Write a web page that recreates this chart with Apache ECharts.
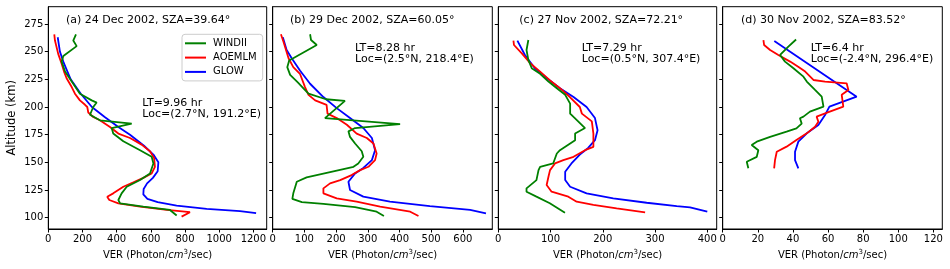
<!DOCTYPE html>
<html><head><meta charset="utf-8">
<script src="https://cdn.jsdelivr.net/npm/echarts@6/dist/echarts.min.js"></script>
<style>html,body{margin:0;padding:0;background:#fff}#c{width:950px;height:269px}</style>
</head><body><div id="c"></div>
<script>
// ---- data: [VER, altitude km] ----
const windiiA = [[162,265.6],[146,260],[166,255],[88,246],[78,241],[98,232],[137,223],[185,212],[254,206],[283,204],[263,200],[244,193],[302,188],[488,185],[371,181],[380,176],[439,169],[537,161],[605,155],[615,149],[595,140],[537,134],[459,128],[429,122],[410,116],[420,113],[556,110],[712,107],[751,102]];
const aoemlmA = [[35,265.6],[39,260],[58,248],[78,239],[92,232],[107,226],[137,218],[156,212],[185,206],[215,202],[228,200],[234,195],[263,191],[302,188],[361,182],[410,176],[478,172],[546,166],[595,160],[619,154],[624,146],[605,140],[556,136],[498,132],[439,128],[380,122],[345,119],[357,116],[410,113],[537,110],[693,107],[829,105],[780,101]];
const glowA = [[55,263],[68,250],[90,240],[131,225],[190,212],[255,200],[330,191],[410,182],[478,175],[560,165],[615,157],[644,150],[640,142],[612,136],[578,131],[558,126],[556,121],[580,117],[640,114],[751,111],[927,108],[1122,106],[1216,104.2]];

const windiiB = [[118,265.7],[121,260.5],[139,256],[52,242],[46,236],[55,229],[80,222],[100,216],[113,212],[168,207],[228,205.5],[165,190],[402,184.6],[260,181],[239,178],[244,173],[260,167],[281,160],[286,155],[270,149],[255,146],[107,136.4],[76,132.5],[65,122],[62,117],[92,114],[160,112.5],[260,109.5],[328,105.4],[351,101.5]];
const aoemlmB = [[26,265.7],[34,259],[50,244],[65,236],[86,230],[102,218],[113,211],[134,206],[170,202],[173,194],[202,190],[234,184],[265,176],[297,172],[318,167],[328,158],[323,152],[302,146],[276,143],[249,138.5],[213,134],[181,131],[160,126.5],[160,122],[202,117.5],[265,114.5],[339,110],[434,105.4],[460,101.5]];
const glowB = [[32,263],[44,251.5],[60,244],[86,233],[118,221],[160,209],[202,199],[244,190],[286,181],[313,172],[323,161],[313,152],[286,145],[260,140],[239,132.5],[244,125],[286,119],[370,114.5],[496,110.5],[623,107],[673,104]];

const windiiC = [[57.5,260.5],[54,251.5],[57.5,242.5],[64,235],[80,230],[96,223],[112,217],[128,211],[137.5,203],[137.5,194],[144,191],[166,181],[147,176],[147,170],[118,161],[112,158],[105,149],[80,146],[77,143],[73,134],[54,126.5],[54,123.5],[73,119],[98.6,113],[127.6,104.5]];
const aoemlmC = [[29,260],[30,256],[45,248.5],[61,239.5],[80,232],[99,224],[118,217],[137,209],[156,200],[160,194],[179,187],[182,176],[182,164],[166,161],[144,155],[124.5,152],[108.5,149],[99,143],[96,137],[92.5,129.5],[102,123.5],[134,119],[150,114.5],[182,111.5],[226.5,108.4],[281,104.8]];
const glowC = [[36.5,260],[51,247],[70,235],[93,226],[118,217],[144,209],[169,200],[185,190],[190,179],[185,170],[172,163],[156,157],[140,149],[128,141.5],[128,134],[137.5,128],[169,122],[220,117.5],[284,113.5],[341.5,110.5],[367,109.4],[400,105.4]];

const windiiD = [[41.8,261],[37.4,254.5],[32.7,247],[35.5,241],[40.3,235],[46,227.4],[47.9,223],[52.6,215.4],[56.4,209.3],[57.4,200.3],[49.7,195.8],[46,191.3],[44,189.8],[45,185],[42,180.7],[36.4,177.7],[27,173],[19.4,168.7],[16.5,165.7],[20.3,161],[19.4,155],[13.7,150.6],[14.6,144.6]];
const aoemlmD = [[23.2,260.5],[23.6,256],[27,251.5],[31.7,247],[38.4,241],[43,236.4],[47,232],[51.7,224.4],[58.3,223],[70.6,221.4],[71.6,215.4],[67.8,211],[68.7,200.3],[61,195.8],[53.5,191.3],[54.5,186.7],[52.6,182.2],[47.9,176.2],[42,170.2],[36.4,164.2],[30.8,159.6],[29.8,152],[29.3,144.6]];
const glowD = [[29.4,259.6],[76.3,209.3],[60.8,200.3],[58.3,192.8],[54.5,183.7],[47.9,176.2],[43.1,168.7],[41.2,159.6],[41.2,152],[43.1,144.6]];

// ---- axes / labels ----
const yTicks = [100,125,150,175,200,225,250,275];
const yRange = [89.8, 290.6];
const xTicksA = [0,200,400,600,800,1000,1200];
const xTicksB = [0,100,200,300,400,500,600];
const xTicksC = [0,100,200,300,400];
const xTicksD = [0,20,40,60,80,100,120];
const xMaxes = [1278, 693, 418, 125.1];
const seriesNames = ['WINDII','AOEMLM','GLOW'];
const panelTitles = ['(a) 24 Dec 2002, SZA=39.64°','(b) 29 Dec 2002, SZA=60.05°','(c) 27 Nov 2002, SZA=72.21°','(d) 30 Nov 2002, SZA=83.52°'];
const panelLT = ['LT=9.96 hr','LT=8.28 hr','LT=7.29 hr','LT=6.4 hr'];
const panelLoc = ['Loc=(2.7°N, 191.2°E)','Loc=(2.5°N, 218.4°E)','Loc=(0.5°N, 307.4°E)','Loc=(-2.4°N, 296.4°E)'];

(function () {
const FONT = 'DejaVu Sans';
const colors = ['#008000','#ff0000','#0000ff'];
const panels = [[windiiA,aoemlmA,glowA],[windiiB,aoemlmB,glowB],[windiiC,aoemlmC,glowC],[windiiD,aoemlmD,glowD]];
const xTicks = [xTicksA,xTicksB,xTicksC,xTicksD];

const lefts = [48.3, 272.7, 498.3, 722.7];
const widths = [218.4, 219.6, 218.4, 219.6];
const gTop = 6.7, gHeight = 222.3;
const plain = v => String(v);

const grid = [], xAxis = [], yAxis = [], series = [];
for (let i = 0; i < 4; i++) {
  grid.push({left: lefts[i], top: gTop, width: widths[i], height: gHeight, show: true, borderColor: '#000', borderWidth: 1, containLabel: false});
  xAxis.push({
    type: 'value', gridIndex: i, min: 0, max: xMaxes[i],
    axisLine: {show: true, onZero: false, lineStyle: {color: '#000', width: 1}},
    axisTick: {show: true, length: 3.5, lineStyle: {color: '#000', width: 1}, customValues: xTicks[i]},
    axisLabel: {color: '#000', fontFamily: FONT, fontSize: 10, margin: 5, customValues: xTicks[i], formatter: plain},
    splitLine: {show: false},
    name: 'VER (Photon/{i|cm}{s|3}/sec)', nameLocation: 'middle', nameGap: 19,
    nameTextStyle: {color: '#000', fontFamily: FONT, fontSize: 10,
      rich: {i: {fontStyle: 'italic', fontFamily: FONT, fontSize: 10, color: '#000'},
             s: {fontSize: 7, fontFamily: FONT, color: '#000', padding: [0, 0, 6, 0]}}}
  });
  yAxis.push({
    type: 'value', gridIndex: i, min: yRange[0], max: yRange[1],
    axisLine: {show: true, onZero: false, lineStyle: {color: '#000', width: 1}},
    axisTick: {show: true, length: 3.5, lineStyle: {color: '#000', width: 1}, customValues: yTicks},
    axisLabel: {show: i === 0, color: '#000', fontFamily: FONT, fontSize: 10, margin: 5, customValues: yTicks, formatter: plain},
    splitLine: {show: false},
    name: i === 0 ? 'Altitude (km)' : '', nameLocation: 'middle', nameGap: 30,
    nameTextStyle: {color: '#000', fontFamily: FONT, fontSize: 11.5}
  });
  for (let s = 0; s < 3; s++) {
    series.push({
      type: 'line', name: seriesNames[s], xAxisIndex: i, yAxisIndex: i,
      data: panels[i][s], symbol: 'none', showSymbol: false, animation: false,
      lineStyle: {color: colors[s], width: 1.8}, itemStyle: {color: colors[s]},
      z: s === 0 ? 4 : (s === 1 ? 3 : 2)
    });
  }
}

const titlePos = [[66,20],[290,20],[519.3,20],[741,20]];
const annPos = [[142.3,103.3],[355,47.7],[581.7,47.7],[810.7,47.7]];
const graphic = [];
const tf = '11px "DejaVu Sans"';
for (let i = 0; i < 4; i++) {
  graphic.push({type: 'text', x: titlePos[i][0], y: titlePos[i][1], z: 10,
    style: {text: panelTitles[i], fill: '#000', font: tf, verticalAlign: 'middle', align: 'left'}});
  graphic.push({type: 'text', x: annPos[i][0], y: annPos[i][1], z: 10,
    style: {text: panelLT[i], fill: '#000', font: tf, verticalAlign: 'middle', align: 'left'}});
  graphic.push({type: 'text', x: annPos[i][0], y: annPos[i][1] + 11.2, z: 10,
    style: {text: panelLoc[i], fill: '#000', font: tf, verticalAlign: 'middle', align: 'left'}});
}

const chart = echarts.init(document.getElementById('c'), null, {renderer: 'canvas'});
chart.setOption({
  animation: false,
  backgroundColor: '#fff',
  grid, xAxis, yAxis, series, graphic,
  legend: {
    data: seriesNames.map((n, k) => ({name: n, icon: 'rect', itemStyle: {color: colors[k]}})),
    left: 182, top: 34.3, orient: 'vertical',
    itemWidth: 21, itemHeight: 2, itemGap: 0.3,
    padding: [2, 6, 2, 3], borderColor: '#cccccc', borderWidth: 1, borderRadius: 3,
    backgroundColor: '#fff',
    textStyle: {fontFamily: FONT, fontSize: 10, color: '#000', lineHeight: 14, padding: [0, 0, 0, 2]}
  }
});
})();
</script></body></html>
